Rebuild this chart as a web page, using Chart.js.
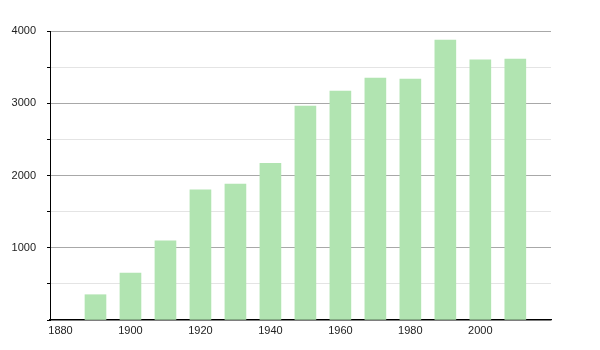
<!DOCTYPE html>
<html>
<head>
<meta charset="utf-8">
<script src="https://cdn.jsdelivr.net/npm/chart.js@4"></script>
<style>
  html, body { margin: 0; padding: 0; background: #fff; }
  #wrap { width: 600px; height: 350px; }
</style>
</head>
<body>
<div id="wrap"><canvas id="popChart" width="600" height="350"></canvas></div>
<script>
// Data
const annees = [1890, 1900, 1910, 1920, 1930, 1940, 1950, 1960, 1970, 1980, 1990, 2000, 2010];
const population = [350, 650, 1095, 1800, 1882, 2170, 2962, 3170, 3350, 3335, 3875, 3600, 3612];
const xTicks = [1880, 1900, 1920, 1940, 1960, 1980, 2000];
const yLabels = [1000, 2000, 3000, 4000];

const ctx = document.getElementById('popChart').getContext('2d');
const popChart = new Chart(ctx, {
    type: 'bar',
    data: {
        datasets: [{
            data: annees.map((a, i) => ({ x: a, y: population[i] })),
            backgroundColor: '#b1e4b1',
            borderWidth: 0,
            barThickness: 21
        }]
    },
    options: {
        responsive: false,
        animation: false,
        layout: { padding: { top: 31, right: 49, left: 0, bottom: 0 } },
        plugins: { legend: { display: false }, tooltip: { enabled: false } },
        scales: {
            x: {
                type: 'linear',
                offset: false,
                min: 1877,
                max: 2020.2,
                afterBuildTicks: scale => { scale.ticks = xTicks.map(v => ({ value: v })); },
                afterFit: scale => { scale.height = 30; },
                grid: { display: false, drawTicks: false, offset: false },
                border: { display: true, color: '#000', width: 1.3 },
                ticks: {
                    color: '#222',
                    padding: 4,
                    maxRotation: 0,
                    font: { family: 'Liberation Sans, Arial, sans-serif', size: 11 },
                    callback: v => String(v)
                }
            },
            y: {
                min: 0,
                max: 4000,
                afterFit: scale => { scale.width = 50; },
                ticks: {
                    stepSize: 500,
                    color: '#222',
                    padding: 11,
                    font: { family: 'Liberation Sans, Arial, sans-serif', size: 11 },
                    callback: v => yLabels.includes(v) ? String(v) : ''
                },
                grid: {
                    color: c => c.tick.value % 1000 === 0 ? '#a8a8a8' : '#e4e4e4',
                    tickColor: '#000',
                    tickLength: 3
                },
                border: { display: true, color: '#000', width: 1 }
            }
        }
    }
});
</script>
</body>
</html>
